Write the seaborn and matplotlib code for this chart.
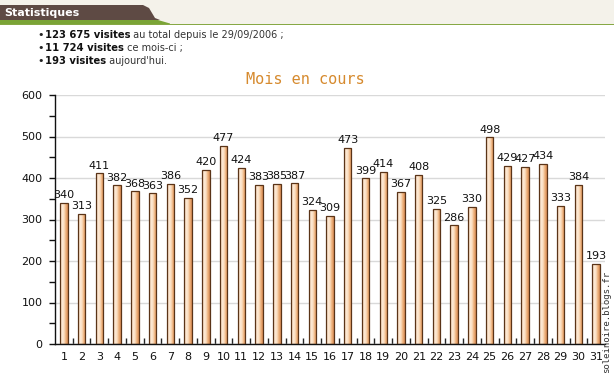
import numpy as np
import pandas as pd
import matplotlib
matplotlib.use('Agg')
import matplotlib.pyplot as plt
from matplotlib.colors import LinearSegmentedColormap
from matplotlib.patches import Rectangle, Polygon
from matplotlib.ticker import MultipleLocator, FixedLocator
import seaborn as sns

days = [str(d) for d in range(1, 32)]
visits = [340, 313, 411, 382, 368, 363, 386, 352, 420, 477, 424, 383, 385, 387,
          324, 309, 473, 399, 414, 367, 408, 325, 286, 330, 498, 429, 427, 434,
          333, 384, 193]
bullet_bold = ['123 675 visites', '11 724 visites', '193 visites']
bullet_rest = [' au total depuis le 29/09/2006 ;', ' ce mois-ci ;', " aujourd'hui."]

df = pd.DataFrame({'jour': days, 'visites': visits})

sns.set_style('white')
plt.rcParams['font.family'] = ['DejaVu Sans']

W, H = 614, 373
fig = plt.figure(figsize=(W / 100, H / 100), dpi=100)

def fy(py):
    return 1 - py / H

# header bar
fig.patches.append(Rectangle((0, fy(24)), 1, 24 / H, transform=fig.transFigure,
                             facecolor='#f4f2ea', edgecolor='none', zorder=0))
fig.patches.append(Polygon([(0, fy(20)), (0, fy(5)), (143 / W, fy(5)), (149 / W, fy(8)),
                            (155 / W, fy(18)), (160 / W, fy(20))],
                           closed=True, transform=fig.transFigure,
                           facecolor='#5e4a44', edgecolor='none', zorder=1))
fig.patches.append(Polygon([(0, fy(24)), (0, fy(20)), (158 / W, fy(20)), (170 / W, fy(23.5)),
                            (170 / W, fy(24))],
                           closed=True, transform=fig.transFigure,
                           facecolor='#7aa436', edgecolor='none', zorder=1))
fig.patches.append(Rectangle((0, fy(25)), 1, 1.5 / H, transform=fig.transFigure,
                             facecolor='#86a844', edgecolor='none', zorder=1))
fig.text(4 / W, fy(13), 'Statistiques', color='white', fontsize=8, fontweight='bold',
         va='center', ha='left')

ax = fig.add_axes([55 / W, fy(344), 550 / W, 249 / H])

# bullets
for i, (b, r) in enumerate(zip(bullet_bold, bullet_rest)):
    yy = fy(35 + 13 * i)
    fig.text(37 / W, yy, '•', fontsize=8, va='center', ha='left', color='#222222')
    t = fig.text(45 / W, yy, b, fontsize=7.2, fontweight='bold', va='center', ha='left',
                 color='#111111')
    ax.annotate(r, xy=(1, 0), xycoords=t, va='bottom', ha='left', fontsize=7,
                color='#333333', annotation_clip=False)

sns.barplot(data=df, x='jour', y='visites', width=0.42, color='#f5c9a0',
            edgecolor='#5a3418', linewidth=0.9, ax=ax)

# gradient fill inside each bar
cmap = LinearSegmentedColormap.from_list(
    'peach', ['#f2c8a0', '#fdebd9', '#fbe0c4', '#eeb07a', '#d88c55'])
grad = np.linspace(0, 1, 64).reshape(1, -1)
for p in ax.patches:
    x0, y0 = p.get_x(), p.get_y()
    w, h = p.get_width(), p.get_height()
    im = ax.imshow(grad, extent=[x0, x0 + w, y0, y0 + h], aspect='auto', cmap=cmap,
                   zorder=2.5, interpolation='bilinear')
    im.set_clip_path(p)
    p.set_facecolor('none')
    p.set_zorder(3)

ax.bar_label(ax.containers[0], padding=2, fontsize=8, color='#111111')

ax.set_xlim(-0.5, 30.5)
ax.set_ylim(0, 600)
ax.set_xlabel('')
ax.set_ylabel('')
ax.yaxis.set_major_locator(MultipleLocator(100))
ax.yaxis.set_minor_locator(MultipleLocator(50))
ax.xaxis.set_minor_locator(FixedLocator(np.arange(0.5, 30, 1)))
ax.grid(axis='y', color='#d9d9d9', linewidth=1)
ax.set_axisbelow(True)
ax.tick_params(axis='y', which='both', direction='out', length=4, width=1,
               left=True, labelsize=8, colors='#111111', pad=5)
ax.tick_params(axis='x', which='major', length=0, labelsize=8, pad=6, colors='#111111')
ax.tick_params(axis='x', which='minor', direction='in', length=4, width=1, bottom=True)
for s in ['top', 'right']:
    ax.spines[s].set_visible(False)
for s in ['left', 'bottom']:
    ax.spines[s].set_color('#111111')
    ax.spines[s].set_linewidth(1)

fig.text(305 / W, fy(80), 'Mois en cours', color='#d68a2e', fontsize=11,
         family='DejaVu Sans Mono', ha='center', va='center')
fig.text(607 / W, fy(322), 'soleinoire.blogs.fr', rotation=90, fontsize=6.5,
         family='DejaVu Sans Mono', color='#333333', ha='center', va='center')

fig.savefig('out.png', dpi=100, facecolor='white')
